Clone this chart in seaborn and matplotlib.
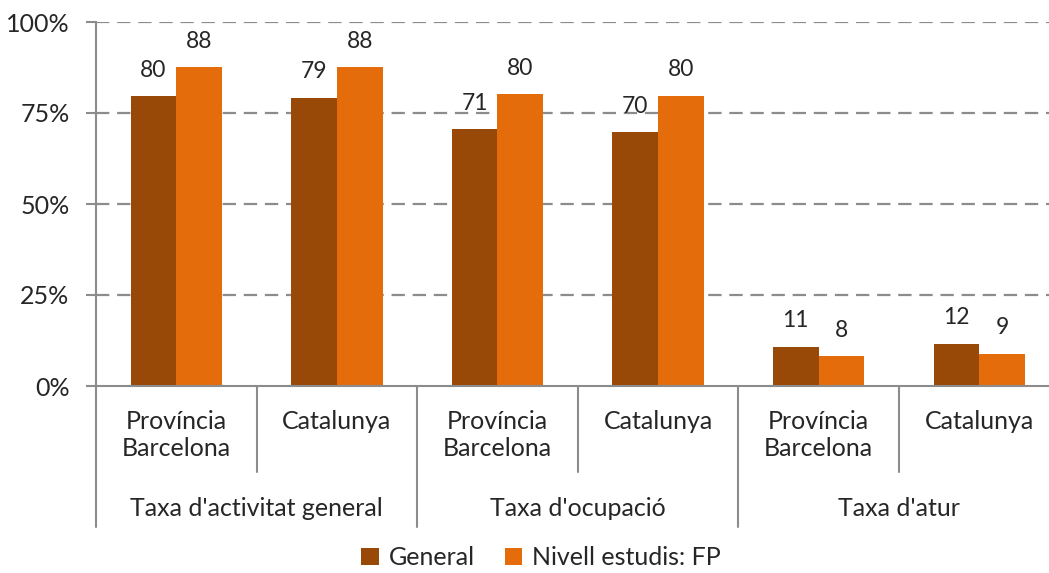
import pandas as pd
import matplotlib
matplotlib.use("Agg")
import matplotlib.pyplot as plt
import matplotlib.transforms as mtransforms
import seaborn as sns

# Dades
grups = ["Taxa d'activitat general", "Taxa d'ocupació", "Taxa d'atur"]
llocs = ["Província\nBarcelona", "Catalunya"]
series = ["General", "Nivell estudis: FP"]
general = [79.6, 79.2, 70.6, 69.7, 10.8, 11.6]
fp = [87.6, 87.6, 80.2, 79.8, 8.2, 8.9]
colors = ["#984807", "#E46C0A"]

# Taula llarga per a seaborn
slots = [f"{g}|{l}" for g in grups for l in llocs]
df = pd.DataFrame({
    "slot": slots * 2,
    "serie": [series[0]] * len(slots) + [series[1]] * len(slots),
    "valor": general + fp,
})

sns.set_style("white")
plt.rcParams["font.family"] = ["Lato", "DejaVu Sans"]
fs = 18
tc = "#262626"

fig = plt.figure(figsize=(10.49, 5.73), dpi=100)
ax = fig.add_axes([96 / 1049, 1 - 386 / 573, 963.6 / 1049, 364 / 573])

sns.barplot(data=df, x="slot", y="valor", hue="serie", order=slots,
            hue_order=series, palette=colors, width=0.57, saturation=1,
            linewidth=0, ax=ax, legend=True)

for c in ax.containers:
    ax.bar_label(c, fmt="%.0f", padding=11, fontsize=16.5, color=tc)

ax.set_xlim(-0.5, len(slots) - 0.5)
ax.set_ylim(0, 100)
ax.set_yticks([0, 25, 50, 75, 100])
ax.set_yticklabels(["0%", "25%", "50%", "75%", "100%"], fontsize=fs, color=tc)
ax.set_xticks([])
ax.set_xlabel("")
ax.set_ylabel("")

# graella discontínua
for yv in [25, 50, 75, 100]:
    ax.axhline(yv, color="#8c8c8c", lw=1.6, ls=(0, (6, 3.5)), zorder=0)

for s in ["top", "right"]:
    ax.spines[s].set_visible(False)
ax.spines["left"].set_color("#8c8c8c")
ax.spines["bottom"].set_color("#8c8c8c")
ax.spines["left"].set_linewidth(1.5)
ax.spines["bottom"].set_linewidth(1.5)
ax.tick_params(axis="y", length=7, width=1.5, color="#8c8c8c", pad=12, left=True)

# eix de categories en dos nivells
trans = mtransforms.blended_transform_factory(ax.transData, ax.transAxes)
h = 364
y_inner = -(472 - 386) / h
y_outer = -(527 - 386) / h
for i in range(len(slots) + 1):
    xb = i - 0.5
    y_end = y_outer if i % 2 == 0 else y_inner
    ax.plot([xb, xb], [0, y_end], transform=trans, color="#8c8c8c",
            lw=1.5, clip_on=False)

for i, s in enumerate(slots):
    lloc = s.split("|")[1]
    ax.text(i, -(410 - 386) / h, lloc, transform=trans, ha="center", va="top",
            fontsize=fs, color=tc, linespacing=1.2)

for j, g in enumerate(grups):
    ax.text(2 * j + 0.5, -(508 - 386) / h, g, transform=trans, ha="center",
            va="center", fontsize=fs, color=tc)

ax.legend(loc="lower center", bbox_to_anchor=(0.516, -0.033),
          bbox_transform=fig.transFigure, ncol=2, frameon=False,
          fontsize=fs, handlelength=0.7, handleheight=0.7,
          handletextpad=0.4, columnspacing=1.2, labelcolor=tc)

fig.savefig("out.png", dpi=100)
